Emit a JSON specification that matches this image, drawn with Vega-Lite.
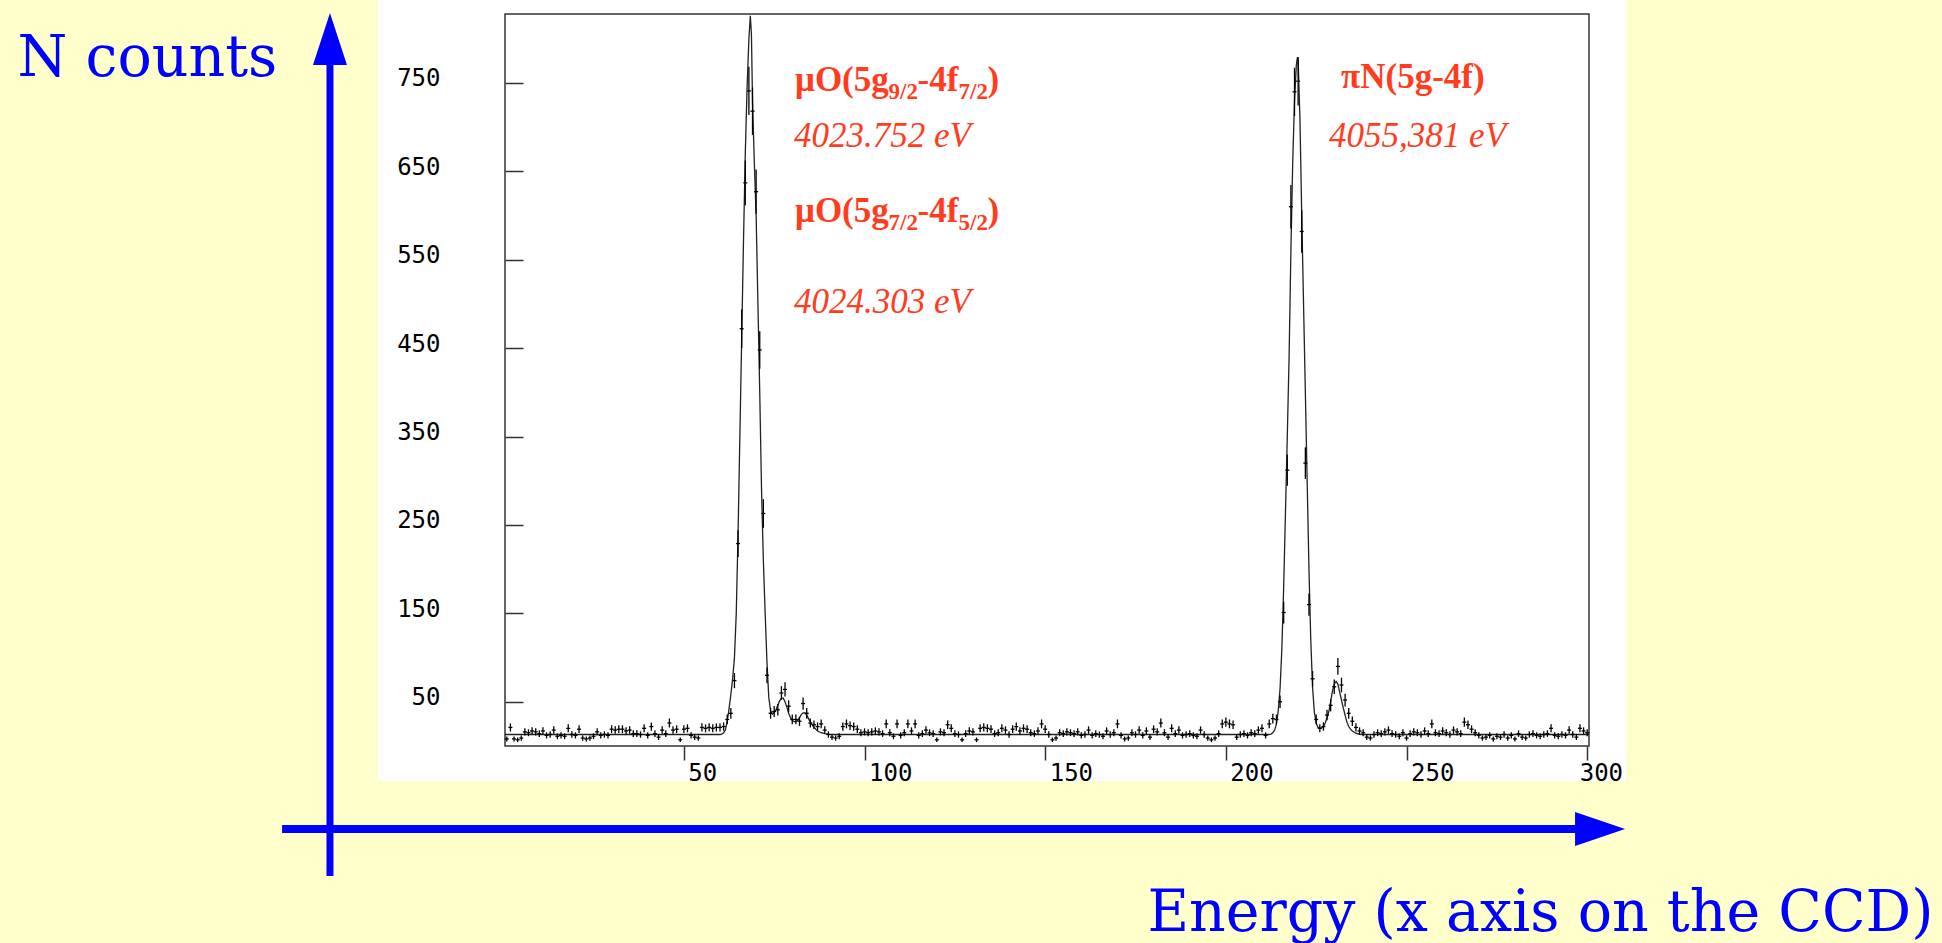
{
  "$schema": "https://vega.github.io/schema/vega-lite/v6.json",
  "width": 1084,
  "height": 732,
  "autosize": {"type": "none"},
  "padding": {"left": 505, "top": 14, "right": 353, "bottom": 197},
  "background": "#ffffcc",
  "config": {"view": {"stroke": null}},
  "datasets": {
    "hist": [
      {"b":1,"n":8,"e":2.8},{"b":2,"n":21,"e":4.6},{"b":3,"n":8,"e":2.8},{"b":4,"n":7,"e":2.6},{"b":5,"n":9,"e":3},
      {"b":6,"n":16,"e":4},{"b":7,"n":15,"e":3.9},{"b":8,"n":17,"e":4.1},{"b":9,"n":16,"e":4},{"b":10,"n":14,"e":3.7},
      {"b":11,"n":17,"e":4.1},{"b":12,"n":12,"e":3.5},{"b":13,"n":13,"e":3.6},{"b":14,"n":18,"e":4.2},{"b":15,"n":11,"e":3.3},
      {"b":16,"n":12,"e":3.5},{"b":17,"n":11,"e":3.3},{"b":18,"n":20,"e":4.5},{"b":19,"n":13,"e":3.6},{"b":20,"n":12,"e":3.5},
      {"b":21,"n":19,"e":4.4},{"b":22,"n":9,"e":3},{"b":23,"n":8,"e":2.8},{"b":24,"n":9,"e":3},{"b":25,"n":11,"e":3.3},
      {"b":26,"n":16,"e":4},{"b":27,"n":12,"e":3.5},{"b":28,"n":13,"e":3.6},{"b":29,"n":12,"e":3.5},{"b":30,"n":19,"e":4.4},
      {"b":31,"n":18,"e":4.2},{"b":32,"n":19,"e":4.4},{"b":33,"n":19,"e":4.4},{"b":34,"n":17,"e":4.1},{"b":35,"n":18,"e":4.2},
      {"b":36,"n":14,"e":3.7},{"b":37,"n":14,"e":3.7},{"b":38,"n":13,"e":3.6},{"b":39,"n":20,"e":4.5},{"b":40,"n":12,"e":3.5},
      {"b":41,"n":22,"e":4.7},{"b":42,"n":14,"e":3.7},{"b":43,"n":10,"e":3.2},{"b":44,"n":18,"e":4.2},{"b":45,"n":14,"e":3.7},
      {"b":46,"n":26,"e":5.1},{"b":47,"n":18,"e":4.2},{"b":48,"n":19,"e":4.4},{"b":49,"n":7,"e":2.6},{"b":50,"n":19,"e":4.4},
      {"b":51,"n":20,"e":4.5},{"b":52,"n":12,"e":3.5},{"b":53,"n":10,"e":3.2},{"b":54,"n":9,"e":3},{"b":55,"n":21,"e":4.6},
      {"b":56,"n":20,"e":4.5},{"b":57,"n":21,"e":4.6},{"b":58,"n":20,"e":4.5},{"b":59,"n":21,"e":4.6},{"b":60,"n":21,"e":4.6},
      {"b":61,"n":22,"e":4.7},{"b":62,"n":30,"e":5.5},{"b":63,"n":37,"e":6.1},{"b":64,"n":74,"e":8.6},{"b":65,"n":229,"e":15.1},
      {"b":66,"n":472,"e":21.7},{"b":67,"n":637,"e":25.2},{"b":68,"n":741,"e":27.2},{"b":69,"n":718,"e":26.8},{"b":70,"n":627,"e":25},
      {"b":71,"n":448,"e":21.2},{"b":72,"n":263,"e":16.2},{"b":73,"n":80,"e":8.9},{"b":74,"n":37,"e":6.1},{"b":75,"n":39,"e":6.2},
      {"b":76,"n":41,"e":6.4},{"b":77,"n":60,"e":7.7},{"b":78,"n":64,"e":8},{"b":79,"n":45,"e":6.7},{"b":80,"n":30,"e":5.5},
      {"b":81,"n":30,"e":5.5},{"b":82,"n":28,"e":5.3},{"b":83,"n":48,"e":6.9},{"b":84,"n":37,"e":6.1},{"b":85,"n":26,"e":5.1},
      {"b":86,"n":24,"e":4.9},{"b":87,"n":22,"e":4.7},{"b":88,"n":25,"e":5},{"b":89,"n":18,"e":4.2},{"b":90,"n":13,"e":3.6},
      {"b":91,"n":10,"e":3.2},{"b":92,"n":9,"e":3},{"b":93,"n":11,"e":3.3},{"b":94,"n":22,"e":4.7},{"b":95,"n":25,"e":5},
      {"b":96,"n":23,"e":4.8},{"b":97,"n":22,"e":4.7},{"b":98,"n":19,"e":4.4},{"b":99,"n":15,"e":3.9},{"b":100,"n":16,"e":4},
      {"b":101,"n":15,"e":3.9},{"b":102,"n":16,"e":4},{"b":103,"n":17,"e":4.1},{"b":104,"n":16,"e":4},{"b":105,"n":14,"e":3.7},
      {"b":106,"n":25,"e":5},{"b":107,"n":15,"e":3.9},{"b":108,"n":11,"e":3.3},{"b":109,"n":25,"e":5},{"b":110,"n":12,"e":3.5},
      {"b":111,"n":15,"e":3.9},{"b":112,"n":25,"e":5},{"b":113,"n":17,"e":4.1},{"b":114,"n":25,"e":5},{"b":115,"n":12,"e":3.5},
      {"b":116,"n":14,"e":3.7},{"b":117,"n":18,"e":4.2},{"b":118,"n":15,"e":3.9},{"b":119,"n":14,"e":3.7},{"b":120,"n":7,"e":2.6},
      {"b":121,"n":16,"e":4},{"b":122,"n":15,"e":3.9},{"b":123,"n":24,"e":4.9},{"b":124,"n":20,"e":4.5},{"b":125,"n":14,"e":3.7},
      {"b":126,"n":13,"e":3.6},{"b":127,"n":7,"e":2.6},{"b":128,"n":14,"e":3.7},{"b":129,"n":17,"e":4.1},{"b":130,"n":16,"e":4},
      {"b":131,"n":7,"e":2.6},{"b":132,"n":20,"e":4.5},{"b":133,"n":21,"e":4.6},{"b":134,"n":20,"e":4.5},{"b":135,"n":19,"e":4.4},
      {"b":136,"n":14,"e":3.7},{"b":137,"n":15,"e":3.9},{"b":138,"n":20,"e":4.5},{"b":139,"n":18,"e":4.2},{"b":140,"n":13,"e":3.6},
      {"b":141,"n":19,"e":4.4},{"b":142,"n":22,"e":4.7},{"b":143,"n":17,"e":4.1},{"b":144,"n":20,"e":4.5},{"b":145,"n":19,"e":4.4},
      {"b":146,"n":15,"e":3.9},{"b":147,"n":14,"e":3.7},{"b":148,"n":17,"e":4.1},{"b":149,"n":25,"e":5},{"b":150,"n":19,"e":4.4},
      {"b":151,"n":13,"e":3.6},{"b":152,"n":7,"e":2.6},{"b":153,"n":9,"e":3},{"b":154,"n":15,"e":3.9},{"b":155,"n":14,"e":3.7},
      {"b":156,"n":16,"e":4},{"b":157,"n":15,"e":3.9},{"b":158,"n":14,"e":3.7},{"b":159,"n":16,"e":4},{"b":160,"n":12,"e":3.5},
      {"b":161,"n":13,"e":3.6},{"b":162,"n":18,"e":4.2},{"b":163,"n":12,"e":3.5},{"b":164,"n":14,"e":3.7},{"b":165,"n":13,"e":3.6},
      {"b":166,"n":11,"e":3.3},{"b":167,"n":17,"e":4.1},{"b":168,"n":13,"e":3.6},{"b":169,"n":15,"e":3.9},{"b":170,"n":25,"e":5},
      {"b":171,"n":12,"e":3.5},{"b":172,"n":8,"e":2.8},{"b":173,"n":9,"e":3},{"b":174,"n":15,"e":3.9},{"b":175,"n":13,"e":3.6},
      {"b":176,"n":18,"e":4.2},{"b":177,"n":12,"e":3.5},{"b":178,"n":17,"e":4.1},{"b":179,"n":10,"e":3.2},{"b":180,"n":19,"e":4.4},
      {"b":181,"n":16,"e":4},{"b":182,"n":26,"e":5.1},{"b":183,"n":15,"e":3.9},{"b":184,"n":10,"e":3.2},{"b":185,"n":20,"e":4.5},
      {"b":186,"n":14,"e":3.7},{"b":187,"n":18,"e":4.2},{"b":188,"n":12,"e":3.5},{"b":189,"n":13,"e":3.6},{"b":190,"n":14,"e":3.7},
      {"b":191,"n":12,"e":3.5},{"b":192,"n":11,"e":3.3},{"b":193,"n":18,"e":4.2},{"b":194,"n":13,"e":3.6},{"b":195,"n":9,"e":3},
      {"b":196,"n":7,"e":2.6},{"b":197,"n":9,"e":3},{"b":198,"n":14,"e":3.7},{"b":199,"n":25,"e":5},{"b":200,"n":27,"e":5.2},
      {"b":201,"n":25,"e":5},{"b":202,"n":24,"e":4.9},{"b":203,"n":10,"e":3.2},{"b":204,"n":13,"e":3.6},{"b":205,"n":14,"e":3.7},
      {"b":206,"n":12,"e":3.5},{"b":207,"n":15,"e":3.9},{"b":208,"n":14,"e":3.7},{"b":209,"n":18,"e":4.2},{"b":210,"n":20,"e":4.5},
      {"b":211,"n":12,"e":3.5},{"b":212,"n":25,"e":5},{"b":213,"n":31,"e":5.6},{"b":214,"n":30,"e":5.5},{"b":215,"n":50,"e":7.1},
      {"b":216,"n":151,"e":12.3},{"b":217,"n":312,"e":17.7},{"b":218,"n":610,"e":24.7},{"b":219,"n":740,"e":27.2},{"b":220,"n":752,"e":27.4},
      {"b":221,"n":582,"e":24.1},{"b":222,"n":320,"e":17.9},{"b":223,"n":160,"e":12.6},{"b":224,"n":76,"e":8.7},{"b":225,"n":30,"e":5.5},
      {"b":226,"n":20,"e":4.5},{"b":227,"n":22,"e":4.7},{"b":228,"n":35,"e":5.9},{"b":229,"n":46,"e":6.8},{"b":230,"n":67,"e":8.2},
      {"b":231,"n":90,"e":9.5},{"b":232,"n":69,"e":8.3},{"b":233,"n":52,"e":7.2},{"b":234,"n":37,"e":6.1},{"b":235,"n":28,"e":5.3},
      {"b":236,"n":21,"e":4.6},{"b":237,"n":17,"e":4.1},{"b":238,"n":15,"e":3.9},{"b":239,"n":10,"e":3.2},{"b":240,"n":9,"e":3},
      {"b":241,"n":13,"e":3.6},{"b":242,"n":15,"e":3.9},{"b":243,"n":14,"e":3.7},{"b":244,"n":16,"e":4},{"b":245,"n":18,"e":4.2},
      {"b":246,"n":14,"e":3.7},{"b":247,"n":13,"e":3.6},{"b":248,"n":11,"e":3.3},{"b":249,"n":15,"e":3.9},{"b":250,"n":9,"e":3},
      {"b":251,"n":14,"e":3.7},{"b":252,"n":16,"e":4},{"b":253,"n":15,"e":3.9},{"b":254,"n":13,"e":3.6},{"b":255,"n":17,"e":4.1},
      {"b":256,"n":14,"e":3.7},{"b":257,"n":25,"e":5},{"b":258,"n":15,"e":3.9},{"b":259,"n":14,"e":3.7},{"b":260,"n":17,"e":4.1},
      {"b":261,"n":15,"e":3.9},{"b":262,"n":13,"e":3.6},{"b":263,"n":18,"e":4.2},{"b":264,"n":16,"e":4},{"b":265,"n":14,"e":3.7},
      {"b":266,"n":27,"e":5.2},{"b":267,"n":24,"e":4.9},{"b":268,"n":19,"e":4.4},{"b":269,"n":15,"e":3.9},{"b":270,"n":12,"e":3.5},
      {"b":271,"n":9,"e":3},{"b":272,"n":10,"e":3.2},{"b":273,"n":12,"e":3.5},{"b":274,"n":8,"e":2.8},{"b":275,"n":11,"e":3.3},
      {"b":276,"n":10,"e":3.2},{"b":277,"n":13,"e":3.6},{"b":278,"n":9,"e":3},{"b":279,"n":12,"e":3.5},{"b":280,"n":8,"e":2.8},
      {"b":281,"n":14,"e":3.7},{"b":282,"n":10,"e":3.2},{"b":283,"n":9,"e":3},{"b":284,"n":13,"e":3.6},{"b":285,"n":14,"e":3.7},
      {"b":286,"n":12,"e":3.5},{"b":287,"n":11,"e":3.3},{"b":288,"n":13,"e":3.6},{"b":289,"n":14,"e":3.7},{"b":290,"n":20,"e":4.5},
      {"b":291,"n":12,"e":3.5},{"b":292,"n":11,"e":3.3},{"b":293,"n":13,"e":3.6},{"b":294,"n":12,"e":3.5},{"b":295,"n":18,"e":4.2},
      {"b":296,"n":13,"e":3.6},{"b":297,"n":10,"e":3.2},{"b":298,"n":20,"e":4.5},{"b":299,"n":17,"e":4.1},{"b":300,"n":15,"e":3.9}
    ],
    "fit": [
      {"x":0.5,"y":13},{"x":60,"y":13},{"x":60.5,"y":13.5},{"x":61,"y":15},{"x":61.5,"y":18},{"x":62,"y":28},{"x":62.5,"y":42},
      {"x":63,"y":58},{"x":63.5,"y":76},{"x":64,"y":100},{"x":64.5,"y":150},{"x":65,"y":240},{"x":65.5,"y":350},{"x":66,"y":460},
      {"x":66.5,"y":570},{"x":67,"y":670},{"x":67.5,"y":745},{"x":68,"y":800},{"x":68.4,"y":826},{"x":68.7,"y":805},{"x":69,"y":730},
      {"x":69.5,"y":660},{"x":70,"y":600},{"x":70.5,"y":500},{"x":71,"y":400},{"x":71.5,"y":290},{"x":72,"y":210},{"x":72.5,"y":150},
      {"x":73,"y":95},{"x":73.5,"y":55},{"x":74,"y":40},{"x":74.5,"y":36},{"x":75,"y":38},{"x":75.5,"y":41},{"x":76,"y":46},
      {"x":76.5,"y":51},{"x":77,"y":54},{"x":77.5,"y":54},{"x":78,"y":50},{"x":78.5,"y":44},{"x":79,"y":37},{"x":79.5,"y":32},
      {"x":80,"y":29},{"x":80.5,"y":27.5},{"x":81,"y":27.5},{"x":81.5,"y":29},{"x":82,"y":32},{"x":82.5,"y":35.5},{"x":83,"y":37.5},
      {"x":83.5,"y":37.5},{"x":84,"y":35},{"x":84.5,"y":31},{"x":85,"y":27},{"x":85.5,"y":24},{"x":86,"y":21},{"x":87,"y":17},
      {"x":88,"y":15},{"x":89,"y":14},{"x":90,"y":13.3},{"x":91,"y":13},{"x":212,"y":13},{"x":212.5,"y":13.5},{"x":213,"y":15},
      {"x":213.5,"y":18},{"x":214,"y":25},{"x":214.5,"y":40},{"x":215,"y":65},{"x":215.5,"y":110},{"x":216,"y":180},{"x":216.5,"y":265},
      {"x":217,"y":350},{"x":217.5,"y":440},{"x":218,"y":560},{"x":218.5,"y":660},{"x":219,"y":730},{"x":219.5,"y":770},{"x":219.8,"y":779},
      {"x":220,"y":776},{"x":220.5,"y":710},{"x":221,"y":600},{"x":221.5,"y":500},{"x":222,"y":400},{"x":222.5,"y":300},{"x":223,"y":200},
      {"x":223.5,"y":120},{"x":224,"y":66},{"x":224.5,"y":38},{"x":225,"y":26},{"x":225.5,"y":21},{"x":226,"y":20},{"x":226.5,"y":20.5},
      {"x":227,"y":22},{"x":227.5,"y":26},{"x":228,"y":32},{"x":228.5,"y":39},{"x":229,"y":50},{"x":229.5,"y":62},{"x":230,"y":70},
      {"x":230.5,"y":73},{"x":231,"y":70},{"x":231.5,"y":61},{"x":232,"y":52},{"x":232.5,"y":43},{"x":233,"y":35},{"x":233.5,"y":27},
      {"x":234,"y":22},{"x":234.5,"y":19},{"x":235,"y":17},{"x":236,"y":14.5},{"x":237,"y":13.3},{"x":238,"y":13},{"x":300.5,"y":13}
    ]
  },
  "layer": [
    {
      "data": {"values": [{}]},
      "mark": {"type": "rect", "fill": "#ffffff"},
      "encoding": {
        "x": {
          "datum": -34.65, "type": "quantitative", "title": "Energy (x axis on the CCD)",
          "scale": {"domain": [0.5, 300.5], "nice": false, "zero": false},
          "axis": {
            "values": [50, 100, 150, 200, 250, 300],
            "title": "Energy (x axis on the CCD)",
            "titleFont": "DejaVu Serif", "titleFontSize": 57, "titleFontWeight": "normal", "titleColor": "#0000ff",
            "titleX": 1428, "titleY": 184, "titleAlign": "right", "titleBaseline": "alphabetic",
            "labelFont": "DejaVu Sans Mono", "labelFontSize": 24, "labelColor": "#000000",
            "labelAlign": "left", "labelBaseline": "top",
            "labelOffset": {"condition": {"test": "datum.value === 300", "value": -8}, "value": 4},
            "labelPadding": 1,
            "labelFlush": false, "labelOverlap": false,
            "tickSize": 14, "tickColor": "#333333", "tickWidth": 1.5,
            "domain": false, "grid": false, "zindex": 1
          }
        },
        "x2": {"datum": 310.77},
        "y": {
          "datum": -39.6, "type": "quantitative", "title": "N counts",
          "scale": {"domain": [0, 828], "nice": false, "zero": false},
          "axis": {
            "values": [50, 150, 250, 350, 450, 550, 650, 750],
            "title": "N counts",
            "titleFont": "DejaVu Serif", "titleFontSize": 57, "titleFontWeight": "normal", "titleColor": "#0000ff",
            "titleAngle": 0, "titleX": -488, "titleY": 61, "titleAlign": "left", "titleBaseline": "alphabetic",
            "labelFont": "DejaVu Sans Mono", "labelFontSize": 24, "labelColor": "#000000",
            "labelAlign": "right", "labelBaseline": "alphabetic", "labelOffset": 3, "labelPadding": 83,
            "labelOverlap": false,
            "tickSize": -18, "tickColor": "#333333", "tickWidth": 1.5,
            "domain": false, "grid": false, "zindex": 1
          }
        },
        "y2": {"datum": 843.8}
      }
    },
    {
      "data": {"values": [{}]},
      "mark": {"type": "rule", "color": "#0000ff", "strokeWidth": 7},
      "encoding": {
        "x": {"datum": -47.94, "type": "quantitative", "title": "Energy (x axis on the CCD)"},
        "y": {"datum": -147.1, "type": "quantitative", "title": "N counts"},
        "y2": {"datum": 772}
      }
    },
    {
      "data": {"values": [{}]},
      "mark": {"type": "rule", "color": "#0000ff", "strokeWidth": 8},
      "encoding": {
        "x": {"datum": -61.2, "type": "quantitative", "title": "Energy (x axis on the CCD)"},
        "x2": {"datum": 298.5},
        "y": {"datum": -93.9, "type": "quantitative", "title": "N counts"}
      }
    },
    {
      "data": {"values": [{}]},
      "mark": {"type": "point", "shape": "M0,-1L0.654,1L-0.654,1Z", "size": 2704, "filled": true, "color": "#0000ff", "opacity": 1},
      "encoding": {
        "x": {"datum": -47.94, "type": "quantitative", "title": "Energy (x axis on the CCD)"},
        "y": {"datum": 799.7, "type": "quantitative", "title": "N counts"}
      }
    },
    {
      "data": {"values": [{}]},
      "mark": {"type": "point", "shape": "M1,0L-1,-0.68L-1,0.68Z", "size": 2500, "filled": true, "color": "#0000ff", "opacity": 1},
      "encoding": {
        "x": {"datum": 303.57, "type": "quantitative", "title": "Energy (x axis on the CCD)"},
        "y": {"datum": -93.9, "type": "quantitative", "title": "N counts"}
      }
    },
    {
      "data": {"values": [{}]},
      "mark": {"type": "rect", "fill": null, "stroke": "#333333", "strokeWidth": 1.5},
      "encoding": {
        "x": {"datum": 0.5, "type": "quantitative", "title": "Energy (x axis on the CCD)"},
        "x2": {"datum": 300.5},
        "y": {"datum": 0, "type": "quantitative", "title": "N counts"},
        "y2": {"datum": 828}
      }
    },
    {
      "data": {"name": "fit"},
      "mark": {"type": "line", "color": "#222222", "strokeWidth": 1.3},
      "encoding": {
        "x": {"field": "x", "type": "quantitative", "title": "Energy (x axis on the CCD)"},
        "y": {"field": "y", "type": "quantitative", "title": "N counts"}
      }
    },
    {
      "data": {"name": "hist"},
      "mark": {"type": "errorbar", "color": "#000000", "thickness": 1.3},
      "encoding": {
        "x": {"field": "b", "type": "quantitative", "title": "Energy (x axis on the CCD)"},
        "y": {"field": "n", "type": "quantitative", "title": "N counts"},
        "yError": {"field": "e"}
      }
    },
    {
      "data": {"name": "hist"},
      "mark": {"type": "tick", "orient": "horizontal", "size": 4, "thickness": 1.3, "color": "#000000", "opacity": 1},
      "encoding": {
        "x": {"field": "b", "type": "quantitative", "title": "Energy (x axis on the CCD)"},
        "y": {"field": "n", "type": "quantitative", "title": "N counts"}
      }
    },
    {
      "data": {"values": [{}]},
      "mark": {"type": "text", "text": "μO(5g", "font": "Liberation Serif", "fontSize": 35, "fontWeight": "bold", "color": "#ff3c1e", "align": "left", "baseline": "alphabetic"},
      "encoding": {"x": {"datum": 80.77, "type": "quantitative", "title": "Energy (x axis on the CCD)"}, "y": {"datum": 740.9, "type": "quantitative", "title": "N counts"}}
    },
    {
      "data": {"values": [{}]},
      "mark": {"type": "text", "text": "9/2", "font": "Liberation Serif", "fontSize": 23, "fontWeight": "bold", "color": "#ff3c1e", "align": "left", "baseline": "alphabetic", "dx": 93.5, "dy": 8},
      "encoding": {"x": {"datum": 80.77, "type": "quantitative", "title": "Energy (x axis on the CCD)"}, "y": {"datum": 740.9, "type": "quantitative", "title": "N counts"}}
    },
    {
      "data": {"values": [{}]},
      "mark": {"type": "text", "text": "-4f", "font": "Liberation Serif", "fontSize": 35, "fontWeight": "bold", "color": "#ff3c1e", "align": "left", "baseline": "alphabetic", "dx": 122.5},
      "encoding": {"x": {"datum": 80.77, "type": "quantitative", "title": "Energy (x axis on the CCD)"}, "y": {"datum": 740.9, "type": "quantitative", "title": "N counts"}}
    },
    {
      "data": {"values": [{}]},
      "mark": {"type": "text", "text": "7/2", "font": "Liberation Serif", "fontSize": 23, "fontWeight": "bold", "color": "#ff3c1e", "align": "left", "baseline": "alphabetic", "dx": 163.5, "dy": 8},
      "encoding": {"x": {"datum": 80.77, "type": "quantitative", "title": "Energy (x axis on the CCD)"}, "y": {"datum": 740.9, "type": "quantitative", "title": "N counts"}}
    },
    {
      "data": {"values": [{}]},
      "mark": {"type": "text", "text": ")", "font": "Liberation Serif", "fontSize": 35, "fontWeight": "bold", "color": "#ff3c1e", "align": "left", "baseline": "alphabetic", "dx": 192.5},
      "encoding": {"x": {"datum": 80.77, "type": "quantitative", "title": "Energy (x axis on the CCD)"}, "y": {"datum": 740.9, "type": "quantitative", "title": "N counts"}}
    },
    {
      "data": {"values": [{}]},
      "mark": {"type": "text", "text": "μO(5g", "font": "Liberation Serif", "fontSize": 35, "fontWeight": "bold", "color": "#ff3c1e", "align": "left", "baseline": "alphabetic"},
      "encoding": {"x": {"datum": 80.77, "type": "quantitative", "title": "Energy (x axis on the CCD)"}, "y": {"datum": 592.7, "type": "quantitative", "title": "N counts"}}
    },
    {
      "data": {"values": [{}]},
      "mark": {"type": "text", "text": "7/2", "font": "Liberation Serif", "fontSize": 23, "fontWeight": "bold", "color": "#ff3c1e", "align": "left", "baseline": "alphabetic", "dx": 93.5, "dy": 8},
      "encoding": {"x": {"datum": 80.77, "type": "quantitative", "title": "Energy (x axis on the CCD)"}, "y": {"datum": 592.7, "type": "quantitative", "title": "N counts"}}
    },
    {
      "data": {"values": [{}]},
      "mark": {"type": "text", "text": "-4f", "font": "Liberation Serif", "fontSize": 35, "fontWeight": "bold", "color": "#ff3c1e", "align": "left", "baseline": "alphabetic", "dx": 122.5},
      "encoding": {"x": {"datum": 80.77, "type": "quantitative", "title": "Energy (x axis on the CCD)"}, "y": {"datum": 592.7, "type": "quantitative", "title": "N counts"}}
    },
    {
      "data": {"values": [{}]},
      "mark": {"type": "text", "text": "5/2", "font": "Liberation Serif", "fontSize": 23, "fontWeight": "bold", "color": "#ff3c1e", "align": "left", "baseline": "alphabetic", "dx": 163.5, "dy": 8},
      "encoding": {"x": {"datum": 80.77, "type": "quantitative", "title": "Energy (x axis on the CCD)"}, "y": {"datum": 592.7, "type": "quantitative", "title": "N counts"}}
    },
    {
      "data": {"values": [{}]},
      "mark": {"type": "text", "text": ")", "font": "Liberation Serif", "fontSize": 35, "fontWeight": "bold", "color": "#ff3c1e", "align": "left", "baseline": "alphabetic", "dx": 192.5},
      "encoding": {"x": {"datum": 80.77, "type": "quantitative", "title": "Energy (x axis on the CCD)"}, "y": {"datum": 592.7, "type": "quantitative", "title": "N counts"}}
    },
    {
      "data": {"values": [{}]},
      "mark": {"type": "text", "text": "πN(5g-4f)", "font": "Liberation Serif", "fontSize": 35, "fontWeight": "bold", "color": "#ff3c1e", "align": "left", "baseline": "alphabetic"},
      "encoding": {"x": {"datum": 231.89, "type": "quantitative", "title": "Energy (x axis on the CCD)"}, "y": {"datum": 744.3, "type": "quantitative", "title": "N counts"}}
    },
    {
      "data": {"values": [{}]},
      "mark": {"type": "text", "text": "4023.752 eV", "font": "Liberation Serif", "fontSize": 35, "fontStyle": "italic", "color": "#ff3c1e", "align": "left", "baseline": "alphabetic"},
      "encoding": {"x": {"datum": 80.49, "type": "quantitative", "title": "Energy (x axis on the CCD)"}, "y": {"datum": 677.5, "type": "quantitative", "title": "N counts"}}
    },
    {
      "data": {"values": [{}]},
      "mark": {"type": "text", "text": "4024.303 eV", "font": "Liberation Serif", "fontSize": 35, "fontStyle": "italic", "color": "#ff3c1e", "align": "left", "baseline": "alphabetic"},
      "encoding": {"x": {"datum": 80.49, "type": "quantitative", "title": "Energy (x axis on the CCD)"}, "y": {"datum": 489.8, "type": "quantitative", "title": "N counts"}}
    },
    {
      "data": {"values": [{}]},
      "mark": {"type": "text", "text": "4055,381 eV", "font": "Liberation Serif", "fontSize": 35, "fontStyle": "italic", "color": "#ff3c1e", "align": "left", "baseline": "alphabetic"},
      "encoding": {"x": {"datum": 228.57, "type": "quantitative", "title": "Energy (x axis on the CCD)"}, "y": {"datum": 677.5, "type": "quantitative", "title": "N counts"}}
    }
  ]
}
